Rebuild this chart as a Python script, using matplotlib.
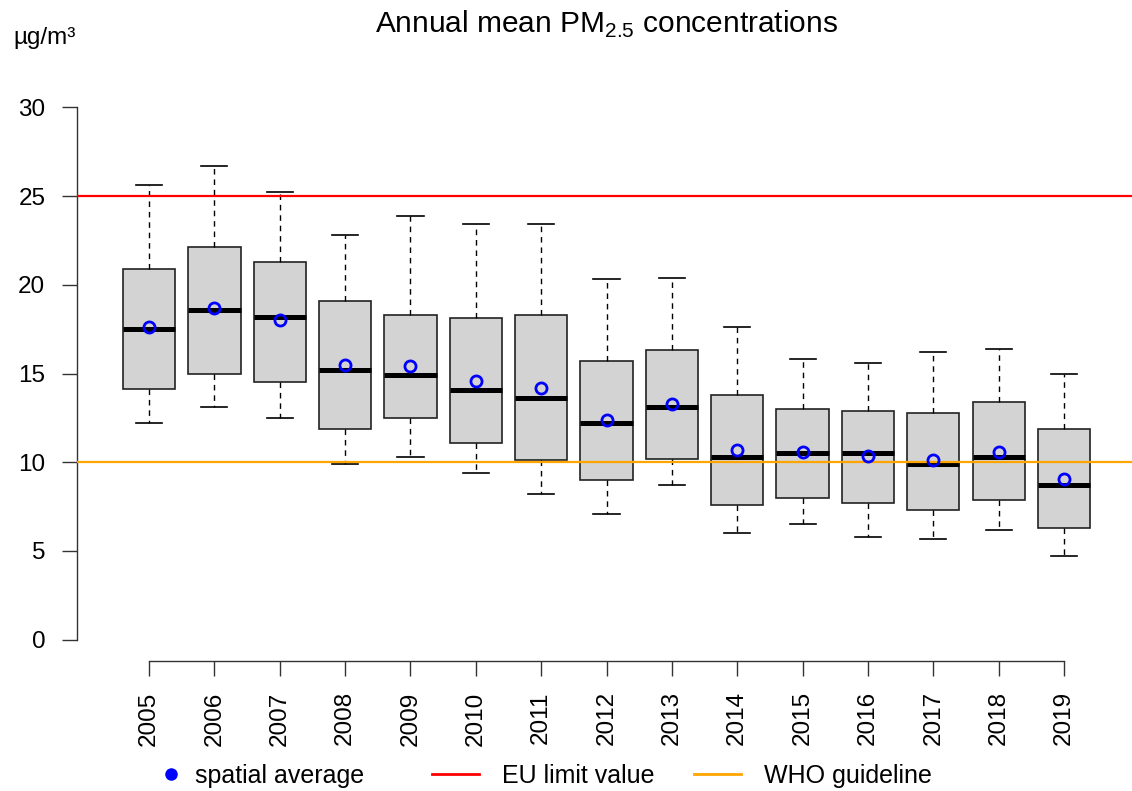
import matplotlib
matplotlib.use("Agg")
import matplotlib.pyplot as plt

plt.rcParams["font.family"] = ["Liberation Sans", "DejaVu Sans"]
plt.rcParams["mathtext.fontset"] = "custom"
plt.rcParams["mathtext.rm"] = "Liberation Sans"

years = ["2005", "2006", "2007", "2008", "2009", "2010", "2011", "2012",
         "2013", "2014", "2015", "2016", "2017", "2018", "2019"]
whisk_lo = [12.2, 13.1, 12.5, 9.9, 10.3, 9.4, 8.2, 7.1, 8.7, 6.0, 6.5, 5.8, 5.7, 6.2, 4.7]
q1 = [14.1, 15.0, 14.5, 11.9, 12.5, 11.1, 10.1, 9.0, 10.2, 7.6, 8.0, 7.7, 7.3, 7.9, 6.3]
medians = [17.5, 18.6, 18.2, 15.2, 14.9, 14.05, 13.6, 12.2, 13.1, 10.3, 10.5, 10.5, 9.9, 10.3, 8.7]
q3 = [20.9, 22.1, 21.3, 19.1, 18.3, 18.1, 18.3, 15.7, 16.3, 13.8, 13.0, 12.9, 12.8, 13.4, 11.9]
whisk_hi = [25.6, 26.7, 25.2, 22.8, 23.9, 23.4, 23.4, 20.3, 20.4, 17.6, 15.8, 15.6, 16.2, 16.4, 15.0]
means = [17.6, 18.67, 18.0, 15.5, 15.4, 14.6, 14.2, 12.4, 13.3, 10.7, 10.58, 10.34, 10.1, 10.6, 9.08]

eu_limit = 25
who_guideline = 10

fig = plt.figure(figsize=(11.32, 7.91), dpi=100)
ax = fig.add_axes([77 / 1132, 1 - 661 / 791, 1 - 77 / 1132, (661 - 86) / 791])

positions = list(range(1, len(years) + 1))
stats = [
    {"whislo": lo, "q1": a, "med": m, "q3": b, "whishi": hi, "label": y}
    for y, lo, a, m, b, hi in zip(years, whisk_lo, q1, medians, q3, whisk_hi)
]
ax.bxp(
    stats,
    positions=positions,
    widths=0.8,
    showfliers=False,
    patch_artist=True,
    boxprops=dict(facecolor="#d3d3d3", edgecolor="#222222", linewidth=1.2),
    medianprops=dict(color="black", linewidth=3.6, solid_capstyle="butt"),
    whiskerprops=dict(color="black", linewidth=1.0, linestyle=(0, (4, 3.5))),
    capprops=dict(color="black", linewidth=1.2),
    zorder=2,
)

ax.axhline(eu_limit, color="red", linewidth=1.6, zorder=3)
ax.axhline(who_guideline, color="orange", linewidth=1.6, zorder=3)
ax.plot(positions, means, linestyle="none", marker="o", markersize=8,
        markerfacecolor="none", markeredgecolor="blue", markeredgewidth=2, zorder=4)

ax.set_xlim(-0.1016, 16.04)
ax.set_ylim(-1.2, 31.2)
ax.set_yticks([0, 5, 10, 15, 20, 25, 30])
ax.set_xticks(positions)
ax.set_xticklabels(years, rotation=90)

for side in ("top", "right"):
    ax.spines[side].set_visible(False)
ax.spines["left"].set_bounds(0, 30)
ax.spines["bottom"].set_bounds(1, 15)
for side in ("left", "bottom"):
    ax.spines[side].set_linewidth(1.0)
    ax.spines[side].set_color("#333333")
ax.tick_params(axis="both", direction="out", length=10.8, width=1.0, color="#333333",
               labelsize=17.5)
ax.tick_params(axis="y", pad=12)
ax.tick_params(axis="x", pad=11)

fig.text(606 / 1132, 1 - 24 / 791, r"Annual mean PM$_{\mathrm{2.5}}$ concentrations",
         ha="center", va="center", fontsize=21.5)
fig.text(13 / 1132, 1 - 38 / 791, "µg/m³", ha="left", va="center", fontsize=17.5)

# legend entries placed one by one, as in the original
legend_y = 1 - 776 / 791
entries = [
    (plt.Line2D([], [], linestyle="none", marker="o", markersize=8, color="blue"),
     "spatial average", 158.5, 1.0, 0.46),
    (plt.Line2D([], [], color="red", linewidth=2), "EU limit value", 432, 1.88, 0.92),
    (plt.Line2D([], [], color="orange", linewidth=2), "WHO guideline", 694, 1.88, 0.92),
]
for handle, label, x0, hlen, hpad in entries:
    fig.legend([handle], [label], loc="center left",
               bbox_to_anchor=(x0 / 1132, legend_y), frameon=False, fontsize=18,
               handlelength=hlen, handletextpad=hpad, borderpad=0, borderaxespad=0)

fig.savefig("out.png", dpi=100)
